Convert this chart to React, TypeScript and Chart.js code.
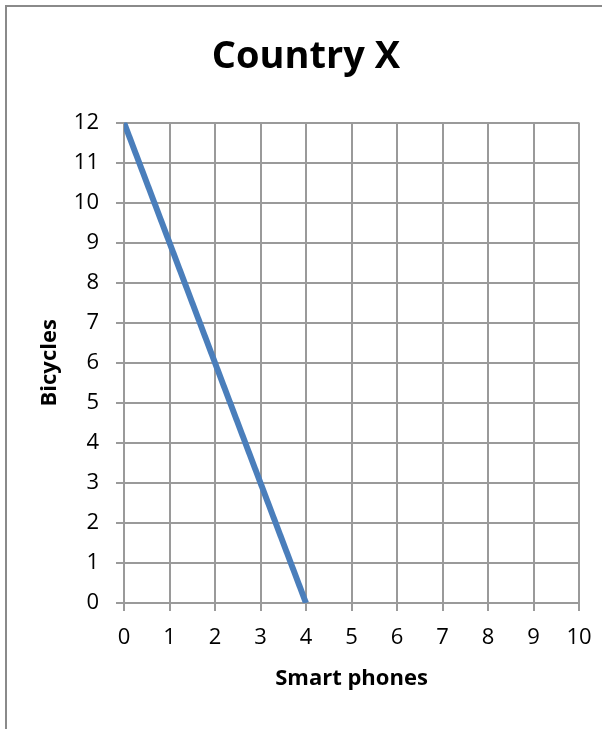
import React, { useEffect, useRef } from "react";
import { Chart, registerables } from "chart.js";

Chart.register(...registerables);

// Production possibilities frontier for Country X
const smartPhones = [0, 4];
const bicycles = [12, 0];

const xTicks = [0, 1, 2, 3, 4, 5, 6, 7, 8, 9, 10];
const yTicks = [0, 1, 2, 3, 4, 5, 6, 7, 8, 9, 10, 11, 12];

const chartTitle = "Country X";
const xTitle = "Smart phones";
const yTitle = "Bicycles";

const FONT = "'Open Sans', 'Noto Sans', sans-serif";
const GRID = "#9a9a9a";

export default function App() {
  const canvasRef = useRef<HTMLCanvasElement | null>(null);

  useEffect(() => {
    const canvas = canvasRef.current;
    if (!canvas) return;
    const points = smartPhones.map((x, i) => ({ x, y: bicycles[i] }));

    const chart = new Chart(canvas, {
      type: "line",
      data: {
        datasets: [
          {
            data: points,
            borderColor: "#4a7ebb",
            borderWidth: 6,
            borderCapStyle: "butt",
            pointRadius: 0,
            tension: 0,
            fill: false,
          },
        ],
      },
      options: {
        animation: false,
        responsive: false,
        devicePixelRatio: 1,
        layout: { padding: { left: 33, right: 23, top: 9, bottom: 0 } },
        plugins: {
          legend: { display: false },
          tooltip: { enabled: false },
          title: {
            display: true,
            text: chartTitle,
            color: "#000",
            font: { family: FONT, size: 38, weight: "bold" },
            padding: { top: 25, bottom: 43 },
          },
        },
        scales: {
          x: {
            type: "linear",
            min: xTicks[0],
            max: xTicks[xTicks.length - 1],
            afterBuildTicks: (scale: any) => {
              scale.ticks = xTicks.map((v) => ({ value: v }));
            },
            afterFit: (scale: any) => {
              scale.height = 126;
              scale.paddingLeft = 0;
              scale.paddingRight = 0;
            },
            ticks: {
              color: "#000",
              font: { family: FONT, size: 22 },
              padding: 14,
              maxRotation: 0,
              autoSkip: false,
            },
            grid: { color: GRID, lineWidth: 2, tickLength: 8, tickColor: GRID },
            border: { color: GRID, width: 2 },
            title: {
              display: true,
              text: xTitle,
              color: "#000",
              font: { family: FONT, size: 22, weight: "bold" },
              padding: { top: 0, bottom: 37 },
            },
          },
          y: {
            type: "linear",
            min: yTicks[0],
            max: yTicks[yTicks.length - 1],
            afterBuildTicks: (scale: any) => {
              scale.ticks = yTicks.map((v) => ({ value: v }));
            },
            afterFit: (scale: any) => {
              scale.width = 91;
              scale.paddingTop = 0;
              scale.paddingBottom = 0;
            },
            ticks: {
              color: "#000",
              font: { family: FONT, size: 22 },
              padding: 17,
              autoSkip: false,
            },
            grid: { color: GRID, lineWidth: 2, tickLength: 8, tickColor: GRID },
            border: { color: GRID, width: 2 },
            title: {
              display: true,
              text: yTitle,
              color: "#000",
              font: { family: FONT, size: 22, weight: "bold" },
              padding: { top: 4, bottom: 0 },
            },
          },
        },
      },
    });
    return () => chart.destroy();
  }, []);

  return (
    <div
      style={{
        position: "absolute",
        left: 0,
        top: 0,
        width: 602,
        height: 729,
        overflow: "hidden",
        background: "#fff",
      }}
    >
      <div
        style={{
          position: "absolute",
          left: 5,
          top: 5,
          width: 700,
          height: 800,
          border: "2px solid #8a8a8a",
          boxSizing: "border-box",
        }}
      />
      <canvas
        ref={canvasRef}
        width={602}
        height={729}
        style={{ position: "absolute", left: 0, top: 0, width: 602, height: 729 }}
      />
    </div>
  );
}
